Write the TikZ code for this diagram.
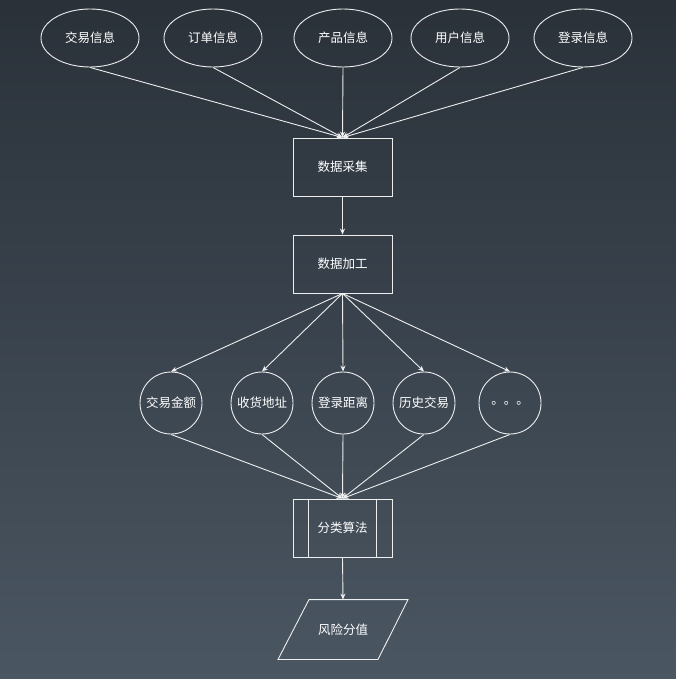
\documentclass[tikz,border=0pt]{standalone}
\usepackage{fontspec}
\setmainfont{Noto Sans CJK SC}
\usetikzlibrary{shapes.geometric,arrows.meta}
\definecolor{bgtop}{HTML}{2A3139}
\definecolor{bgbot}{HTML}{4A5662}
\definecolor{ln}{HTML}{EEEEEE}
\tikzset{
  base/.style={draw=ln, line width=0.9pt, text=white, font=\fontsize{12.5}{14}\selectfont, inner sep=0pt},
  src/.style={base, ellipse, minimum width=98pt, minimum height=58pt},
  boxnode/.style={base, rectangle, minimum width=99pt, minimum height=58pt},
  feat/.style={base, circle, minimum size=62pt},
  paratext/.style={base, draw=none, rectangle, minimum width=99pt, minimum height=59pt},
  edge/.style={draw=ln, line width=0.9pt},
  arr/.style={edge, -{Stealth[length=6pt,width=5pt]}}
}
\begin{document}
\begin{tikzpicture}[x=1pt,y=-1pt]
\shade[top color=bgtop, bottom color=bgbot] (0,0) rectangle (676,679);
\useasboundingbox (0,0) rectangle (676,679);
\node[src] (e1) at (90,38) {交易信息};
\node[src] (e2) at (213,38) {订单信息};
\node[src] (e3) at (343,38) {产品信息};
\node[src] (e4) at (460,38) {用户信息};
\node[src] (e5) at (583,38) {登录信息};
\node[boxnode] (b1) at (342.5,167) {数据采集};
\node[boxnode] (b2) at (342.5,264) {数据加工};
\node[feat] (c1) at (171,403) {交易金额};
\node[feat] (c2) at (262,403) {收货地址};
\node[feat] (c3) at (343,403) {登录距离};
\node[feat] (c4) at (424,403) {历史交易};
\node[feat] (c5) at (510,403) {。。。};
\node[boxnode] (b3) at (342.5,528) {分类算法};
\draw[edge] ([xshift=16pt]b3.north west) -- ([xshift=16pt]b3.south west);
\draw[edge] ([xshift=-16pt]b3.north east) -- ([xshift=-16pt]b3.south east);
\node[paratext] (p) at (343,629.5) {风险分值};
\draw[edge, line join=miter] ([xshift=-34pt]p.north) -- ([xshift=65pt]p.north) -- ([xshift=35pt]p.south) -- ([xshift=-65pt]p.south) -- cycle;
\foreach \e in {e1,e2,e3,e4,e5} \draw[arr] (\e.south) -- (b1.north);
\draw[arr] (b1.south) -- (b2.north);
\foreach \c in {c1,c2,c3,c4,c5} \draw[arr] (b2.south) -- (\c.north);
\foreach \c in {c1,c2,c3,c4,c5} \draw[arr] (\c.south) -- (b3.north);
\draw[arr] (b3.south) -- (p.north);
\end{tikzpicture}
\end{document}
